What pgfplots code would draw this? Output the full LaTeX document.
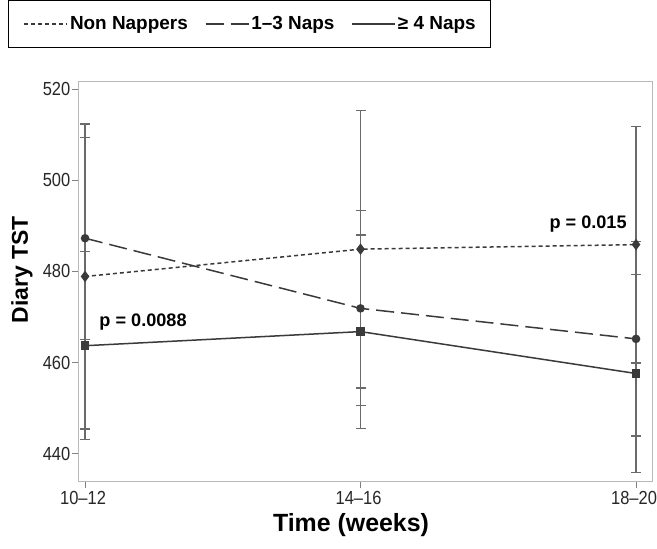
\documentclass[border=0pt]{standalone}
\usepackage{fontspec}
\setmainfont{Liberation Sans}
\newfontfamily\narrowfont{Liberation Sans}[FakeStretch=0.87]
\usepackage{pgfplots}
\pgfplotsset{compat=1.18}
\definecolor{ln}{HTML}{3A3A3A}
\definecolor{eb}{HTML}{6A6A6A}
\definecolor{ax}{HTML}{B8B8B8}
\begin{document}
\begin{tikzpicture}
\begin{axis}[
  scale only axis, width=573bp, height=399bp,
  xmin=-0.022, xmax=2.058, ymin=434, ymax=521.6,
  xtick={0,1,2}, xticklabels={10–12,14–16,18–20},
  ytick={440,460,480,500,520},
  axis line style={ax, line width=1bp},
  tick style={color=black!50, line width=0.8bp},
  tick align=outside, major tick length=7bp,
  xtick pos=left, ytick pos=left,
  /pgf/number format/assume math mode=true,
  ticklabel style={font=\narrowfont\fontsize{19}{21}\selectfont, text=black!85},
  yticklabel style={inner xsep=1.5bp},
  xticklabel style={xshift=-2bp},
  xlabel={Time (weeks)}, ylabel={Diary TST},
  xlabel style={font=\bfseries\fontsize{25}{28}\selectfont, at={(axis description cs:0.4747,-0.11)}, anchor=center},
  ylabel style={font=\bfseries\fontsize{23}{26}\selectfont, at={(axis description cs:-0.0995,0.529)}, anchor=center},
  legend columns=3,
  legend style={at={(axis description cs:-0.1239,1.2055)}, anchor=north west, draw=black, line width=1bp,
    font=\bfseries\fontsize{19}{22}\selectfont, inner xsep=15bp, inner ysep=16bp,
    /tikz/every even column/.append style={column sep=17bp},
    /tikz/every odd column/.append style={column sep=2bp},
    nodes={inner sep=0pt}},
  legend image code/.code={\draw[#1] (0bp,0bp) -- (43bp,0bp);},
]
\addplot[ln, line width=1.5bp, dash pattern=on 4bp off 3bp, mark=diamond*, mark size=4.5bp, mark options={solid},
  error bars/.cd, y dir=both, y explicit,
  error bar style={eb, line width=1.2bp, solid},
  error mark options={eb, rotate=90, mark size=5bp, line width=1.2bp, solid}]
  coordinates {(0,478.9) +- (0,33.5) (1,484.9) +- (0,30.5) (2,485.9) +- (0,26.0)};
\addlegendentry{Non Nappers}
\addplot[ln, line width=1.5bp, dash pattern=on 18bp off 7bp, mark=*, mark size=3.5bp, mark options={solid},
  error bars/.cd, y dir=both, y explicit,
  error bar style={eb, line width=1.2bp, solid},
  error mark options={eb, rotate=90, mark size=5bp, line width=1.2bp, solid}]
  coordinates {(0,487.3) +- (0,22.2) (1,471.9) +- (0,21.4) (2,465.2) +- (0,21.3)};
\addlegendentry{1–3 Naps}
\addplot[ln, line width=1.5bp, solid, mark=square*, mark size=3.5bp, mark options={solid},
  error bars/.cd, y dir=both, y explicit,
  error bar style={eb, line width=1.2bp, solid},
  error mark options={eb, rotate=90, mark size=5bp, line width=1.2bp, solid}]
  coordinates {(0,463.7) +- (0,20.6) (1,466.8) +- (0,21.2) (2,457.6) +- (0,21.8)};
\addlegendentry{≥ 4 Naps}
\node[font=\bfseries\fontsize{18.2}{20}\selectfont, anchor=base, text=black] at (axis cs:0.2105,467.9) {p = 0.0088};
\node[font=\bfseries\fontsize{18.2}{20}\selectfont, anchor=base, text=black] at (axis cs:1.826,489.4) {p = 0.015};
\end{axis}
\pgfresetboundingbox
\path ([xshift=-79bp,yshift=-68bp]current axis.south west) rectangle ++(657bp,549bp);
\end{tikzpicture}
\end{document}
